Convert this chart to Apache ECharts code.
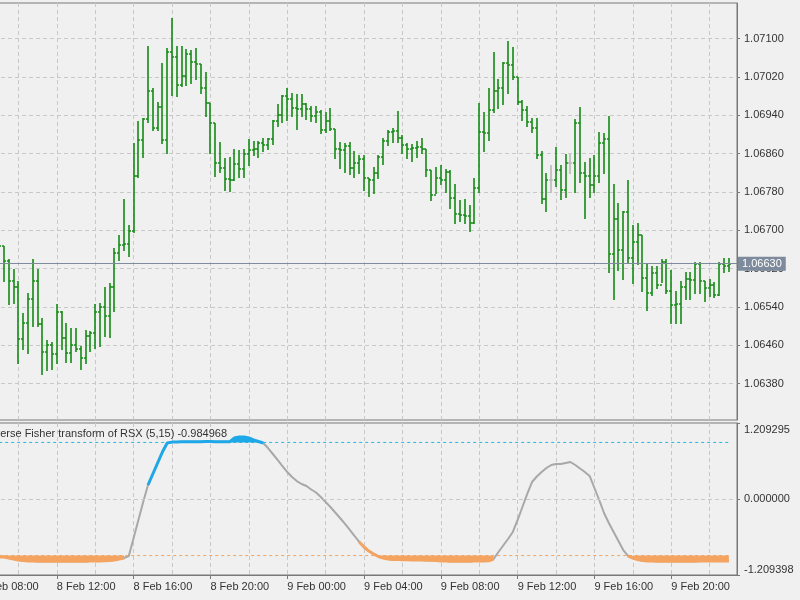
<!DOCTYPE html>
<html lang="en">
  <head>
    <meta charset="UTF-8" />
    <title>EURUSD M15 - Inverse Fisher transform of RSX</title>
    <style>
      * {
        margin: 0;
        padding: 0;
      }
      body {
        background: #f0f0f0;
      }
      #main {
        width: 800px;
        height: 600px;
      }
    </style>
  </head>

  <body>
    <div id="main"></div>
  </body>

  <script src="https://cdn.jsdelivr.net/npm/echarts@6.0.0/dist/echarts.min.js"></script>
  <script>
    // x is counted in 15 minute slots from 8 Feb 00:00, first bar is 8 Feb 09:00
    const firstSlot = 36;

    const opens = [
      1.06689, 1.06668, 1.06635, 1.06593, 1.06582, 1.06472, 1.06507, 1.06557, 1.06593, 1.06505,
      1.06445, 1.06461, 1.06441, 1.0653, 1.06476, 1.06443, 1.06461, 1.06453, 1.06434, 1.0648,
      1.06486, 1.0653, 1.06539, 1.0652, 1.06582, 1.06653, 1.0667, 1.06672, 1.06699, 1.06814,
      1.06889, 1.06933, 1.06991, 1.06914, 1.06956, 1.06889, 1.07071, 1.07062, 1.07002, 1.07021,
      1.07067, 1.0705, 1.07046, 1.06996, 1.06966, 1.06923, 1.06841, 1.06829, 1.06806, 1.06804,
      1.06839, 1.06827, 1.06858, 1.06868, 1.0687, 1.06881, 1.06877, 1.06891, 1.06927, 1.06941,
      1.06979, 1.06973, 1.06954, 1.06952, 1.06964, 1.06952, 1.06939, 1.06946, 1.06908, 1.06927,
      1.06912, 1.0687, 1.06868, 1.06875, 1.06829, 1.06841, 1.06848, 1.06808, 1.06804, 1.0682,
      1.06852, 1.06887, 1.06904, 1.06906, 1.06893, 1.06877, 1.0687, 1.06872, 1.06873, 1.0687,
      1.06825, 1.06774, 1.06808, 1.06804, 1.06822, 1.06768, 1.06733, 1.06731, 1.06729, 1.06716,
      1.06787, 1.06904, 1.06902, 1.0695, 1.06991, 1.06996, 1.07048, 1.07044, 1.07019, 1.06968,
      1.0695, 1.06925, 1.06914, 1.06856, 1.06766, 1.06804, 1.06804, 1.06825, 1.06783, 1.06841,
      1.06841, 1.06923, 1.0682, 1.06814, 1.06795, 1.06814, 1.06881, 1.06891, 1.06651, 1.06724,
      1.06658, 1.06737, 1.06643, 1.06676, 1.06689, 1.06601, 1.06568, 1.0661, 1.06585, 1.06633,
      1.06574, 1.06543, 1.06547, 1.06582, 1.06599, 1.06597, 1.0663, 1.06595, 1.0658, 1.06585,
      1.06564, 1.0663, 1.06626
    ];
    const highs = [
      1.06716, 1.06668, 1.06639, 1.0662, 1.06595, 1.06528, 1.0657, 1.06639, 1.0662, 1.06516,
      1.0647, 1.06466, 1.06545, 1.06532, 1.06507, 1.06495, 1.06495, 1.06459, 1.06491, 1.06489,
      1.06545, 1.06549, 1.06582, 1.06589, 1.06662, 1.06689, 1.06766, 1.0671, 1.06881, 1.06927,
      1.06935, 1.07085, 1.06996, 1.06968, 1.07048, 1.07081, 1.07142, 1.07085, 1.07085, 1.07077,
      1.07075, 1.07081, 1.07046, 1.07029, 1.06966, 1.06923, 1.06883, 1.0685, 1.06852, 1.0687,
      1.06868, 1.0687, 1.06891, 1.06887, 1.06887, 1.06893, 1.06893, 1.06929, 1.06964, 1.06983,
      1.06996, 1.06987, 1.06985, 1.06985, 1.06966, 1.0696, 1.0696, 1.0695, 1.06946, 1.06954,
      1.06912, 1.06883, 1.06881, 1.06883, 1.06866, 1.06856, 1.06856, 1.06808, 1.06831, 1.06856,
      1.06893, 1.06908, 1.06914, 1.06948, 1.06898, 1.06881, 1.06879, 1.06887, 1.06893, 1.0687,
      1.06825, 1.06831, 1.06835, 1.06827, 1.06825, 1.06797, 1.06762, 1.06766, 1.06752, 1.06808,
      1.06966, 1.06946, 1.06996, 1.07071, 1.07016, 1.0705, 1.07094, 1.07083, 1.07019, 1.06971,
      1.0696, 1.06935, 1.06935, 1.06866, 1.0682, 1.06837, 1.06873, 1.06835, 1.0686, 1.0686,
      1.06933, 1.06956, 1.06843, 1.0685, 1.06856, 1.06904, 1.06902, 1.06939, 1.06797, 1.06756,
      1.06741, 1.06804, 1.0671, 1.06716, 1.06689, 1.0663, 1.06626, 1.06626, 1.06639, 1.06639,
      1.06616, 1.06574, 1.06595, 1.06612, 1.06612, 1.06633, 1.06633, 1.06595, 1.06599, 1.06591,
      1.06633, 1.06643, 1.06643
    ];
    const lows = [
      1.06662, 1.06595, 1.06547, 1.06549, 1.06422, 1.06453, 1.06443, 1.06501, 1.06501, 1.06401,
      1.06409, 1.06411, 1.06422, 1.06453, 1.06424, 1.06424, 1.06447, 1.06411, 1.06422, 1.06449,
      1.06455, 1.06459, 1.0648, 1.06478, 1.06532, 1.06637, 1.06658, 1.06647, 1.06697, 1.0681,
      1.06852, 1.06925, 1.06908, 1.06908, 1.06881, 1.06862, 1.06983, 1.06981, 1.07, 1.07002,
      1.07008, 1.07016, 1.06987, 1.06939, 1.06862, 1.06814, 1.06822, 1.06783, 1.06781, 1.06804,
      1.0681, 1.0681, 1.06837, 1.06856, 1.06852, 1.06866, 1.0687, 1.06879, 1.06918, 1.06925,
      1.06929, 1.06939, 1.06912, 1.06939, 1.06933, 1.06927, 1.06925, 1.06902, 1.06904, 1.06908,
      1.0685, 1.06829, 1.06822, 1.06818, 1.06812, 1.0682, 1.06783, 1.06772, 1.06777, 1.06808,
      1.06839, 1.06877, 1.06883, 1.06883, 1.06862, 1.0685, 1.06845, 1.06852, 1.06862, 1.06814,
      1.06762, 1.06777, 1.06797, 1.06779, 1.06747, 1.06714, 1.0672, 1.06716, 1.06699, 1.06714,
      1.06779, 1.06866, 1.06889, 1.06946, 1.06954, 1.06964, 1.06987, 1.07016, 1.06964, 1.06929,
      1.06918, 1.06904, 1.0685, 1.06756, 1.06741, 1.06779, 1.06793, 1.06766, 1.0677, 1.0682,
      1.06779, 1.068, 1.06726, 1.0677, 1.06779, 1.068, 1.0682, 1.06612, 1.06557, 1.06616,
      1.06599, 1.06633, 1.06589, 1.0663, 1.06574, 1.06534, 1.06564, 1.0658, 1.06591, 1.06568,
      1.06507, 1.06507, 1.06507, 1.06557, 1.06557, 1.0657, 1.06568, 1.06553, 1.06562, 1.0656,
      1.06564, 1.06612, 1.06614
    ];
    const closes = [
      1.06668, 1.06635, 1.06593, 1.06582, 1.06472, 1.06507, 1.06557, 1.06593, 1.06505, 1.06445,
      1.06461, 1.06441, 1.0653, 1.06476, 1.06443, 1.06461, 1.06453, 1.06434, 1.0648, 1.06486,
      1.0653, 1.06539, 1.0652, 1.06582, 1.06653, 1.0667, 1.06672, 1.06699, 1.06814, 1.06889,
      1.06933, 1.06991, 1.06914, 1.06956, 1.06889, 1.07071, 1.07062, 1.07002, 1.07021, 1.07067,
      1.0705, 1.07046, 1.06996, 1.06966, 1.06923, 1.06841, 1.06829, 1.06806, 1.06804, 1.06839,
      1.06827, 1.06858, 1.06868, 1.0687, 1.06881, 1.06877, 1.06891, 1.06927, 1.06941, 1.06979,
      1.06973, 1.06954, 1.06952, 1.06964, 1.06952, 1.06939, 1.06946, 1.06908, 1.06927, 1.06912,
      1.0687, 1.06868, 1.06875, 1.06829, 1.06841, 1.06848, 1.06808, 1.06804, 1.0682, 1.06852,
      1.06887, 1.06904, 1.06906, 1.06893, 1.06877, 1.0687, 1.06872, 1.06873, 1.0687, 1.06825,
      1.06774, 1.06808, 1.06804, 1.06822, 1.06768, 1.06733, 1.06731, 1.06729, 1.06716, 1.06787,
      1.06904, 1.06902, 1.0695, 1.06991, 1.06996, 1.07048, 1.07044, 1.07019, 1.06968, 1.0695,
      1.06925, 1.06914, 1.06856, 1.06766, 1.06804, 1.06804, 1.06825, 1.06783, 1.06841, 1.06841,
      1.06923, 1.0682, 1.06814, 1.06795, 1.06814, 1.06881, 1.06891, 1.06651, 1.06724, 1.06658,
      1.06737, 1.06643, 1.06676, 1.06689, 1.06601, 1.06568, 1.0661, 1.06585, 1.06633, 1.06574,
      1.06543, 1.06547, 1.06582, 1.06599, 1.06597, 1.0663, 1.06595, 1.0658, 1.06585, 1.06564,
      1.0663, 1.06626, 1.0663
    ];

    // Inverse Fisher transform of RSX (5,15), one value per bar
    const ifish = [
      -0.923, -0.923, -0.939, -0.955, -0.971, -0.979, -0.986, -0.988, -0.989, -0.99,
      -0.991, -0.991, -0.992, -0.992, -0.991, -0.991, -0.99, -0.99, -0.989, -0.988,
      -0.987, -0.986, -0.984, -0.979, -0.971, -0.955, -0.939, -0.907, -0.621, -0.334,
      -0.048, 0.223, 0.398, 0.573, 0.748, 0.891, 0.905, 0.907, 0.909, 0.91,
      0.911, 0.912, 0.912, 0.913, 0.913, 0.912, 0.912, 0.911, 0.91, 0.971,
      0.987, 0.987, 0.971, 0.939, 0.915, 0.891, 0.811, 0.716, 0.621, 0.525,
      0.43, 0.35, 0.286, 0.239, 0.207, 0.151, 0.103, 0.032, -0.048, -0.127,
      -0.215, -0.302, -0.391, -0.489, -0.585, -0.684, -0.764, -0.828, -0.875, -0.915,
      -0.939, -0.955, -0.963, -0.963, -0.965, -0.966, -0.97, -0.971, -0.972, -0.973,
      -0.975, -0.977, -0.986, -0.988, -0.989, -0.99, -0.99, -0.99, -0.989, -0.988,
      -0.987, -0.986, -0.984, -0.955, -0.843, -0.74, -0.637, -0.525, -0.334, -0.127,
      0.08, 0.27, 0.358, 0.43, 0.493, 0.541, 0.557, 0.557, 0.573, 0.589,
      0.541, 0.485, 0.43, 0.366, 0.175, -0.016, -0.223, -0.382, -0.525, -0.668,
      -0.812, -0.907, -0.939, -0.963, -0.979, -0.986, -0.988, -0.989, -0.99, -0.99,
      -0.991, -0.991, -0.99, -0.99, -0.989, -0.989, -0.988, -0.987, -0.987, -0.986,
      -0.986, -0.985, -0.984968
    ];
    // colour of the line, as runs of [state, bars]: 0 grey, 1 blue, 2 orange
    const colorRuns = [[2, 27], [0, 5], [1, 24], [0, 20], [2, 28], [0, 28], [2, 21]];
    const upperLevel = 0.9;
    const lowerLevel = -0.9;

    // axes
    const priceTicks = [1.0638, 1.0646, 1.0654, 1.0662, 1.067, 1.0678, 1.0686, 1.0694, 1.0702, 1.071];
    const ifishTicks = [-1.209398, 0, 1.209295];
    const timeLabels = [
      "8 Feb 08:00", "8 Feb 12:00", "8 Feb 16:00", "8 Feb 20:00", "9 Feb 00:00",
      "9 Feb 04:00", "9 Feb 08:00", "9 Feb 12:00", "9 Feb 16:00", "9 Feb 20:00"
    ];
    const labelSlots = [32, 48, 64, 80, 96, 112, 128, 144, 160, 176];
    const gridSlots = [40, 48, 56, 64, 72, 80, 88, 96, 104, 112, 120, 128, 136, 144, 152, 160, 168, 176, 184];

    const font = "Liberation Sans, Arial, sans-serif";
    const textColor = "#333333";
    const frameColor = "#787878";
    const gridColor = "#c8c8c8";
    const barColor = "#138a13";
    const dojiColor = "#b8b8b8";
    const priceLineColor = "#7d8b9c";
    const blue = "#1ea8e8";
    const orange = "#f4a460";
    const grey = "#a8a8a8";

    var myChart = echarts.init(document.getElementById("main"));

    const bars = opens.map((o, i) => [firstSlot + i, o, highs[i], lows[i], closes[i]]);
    const lastSlot = firstSlot + ifish.length - 1;
    const lastPrice = closes[closes.length - 1];

    const states = [];
    colorRuns.forEach(([s, n]) => {
      for (let k = 0; k < n; k++) states.push(s);
    });

    // segment (i-1 -> i) takes the colour of bar i
    function colouredLine(state) {
      return ifish.map((v, i) => {
        const on = states[i] === state || states[i + 1] === state;
        return [firstSlot + i, on ? v : null];
      });
    }
    function fillBand(state, test) {
      return ifish.map((v, i) => [firstSlot + i, states[i] === state && test(v) ? v : null]);
    }

    function renderOhlc(params, api) {
      const slot = api.value(0);
      const o = api.value(1);
      const c = api.value(4);
      const x = Math.round(api.coord([slot, o])[0]);
      const yO = Math.round(api.coord([slot, o])[1]);
      const yH = Math.round(api.coord([slot, api.value(2)])[1]);
      const yL = Math.round(api.coord([slot, api.value(3)])[1]);
      const yC = Math.round(api.coord([slot, c])[1]);
      const color = o === c ? dojiColor : barColor;
      const st = () => ({ stroke: color, lineWidth: 1.6 });
      return {
        type: "group",
        children: [
          { type: "line", shape: { x1: x, y1: yH, x2: x, y2: yL + 1 }, style: st() },
          { type: "line", shape: { x1: x - 2, y1: yO, x2: x, y2: yO }, style: st() },
          { type: "line", shape: { x1: x, y1: yC, x2: x + 2, y2: yC }, style: st() },
        ],
      };
    }

    const xMin = 32;
    const xMax = 189.7;
    const labelStyle = { color: textColor, fontSize: 11, fontFamily: font };

    const option = {
      backgroundColor: "#f0f0f0",
      animation: false,
      textStyle: { fontFamily: font },
      grid: [
        {
          left: -20, right: 63, top: 3, height: 417,
          show: true, borderColor: frameColor, borderWidth: 1,
          containLabel: false, outerBoundsMode: "none",
        },
        {
          left: -20, right: 63, top: 423, height: 152,
          show: true, borderColor: frameColor, borderWidth: 1,
          containLabel: false, outerBoundsMode: "none",
        },
      ],
      xAxis: [
        {
          type: "value", gridIndex: 0, min: xMin, max: xMax,
          axisLine: { show: false },
          axisTick: { show: false, customValues: gridSlots },
          axisLabel: { show: false },
          splitLine: { show: true, lineStyle: { color: gridColor, type: [4, 3] } },
        },
        {
          type: "value", gridIndex: 1, min: xMin, max: xMax, position: "top",
          axisLine: { show: false },
          axisTick: { show: false, customValues: gridSlots },
          axisLabel: { show: false },
          splitLine: { show: true, lineStyle: { color: gridColor, type: [4, 3] } },
        },
        {
          type: "value", gridIndex: 1, min: xMin, max: xMax, position: "bottom",
          axisLine: { show: true, lineStyle: { color: frameColor } },
          axisTick: { show: true, length: 4, customValues: labelSlots, lineStyle: { color: frameColor } },
          axisLabel: {
            ...labelStyle,
            customValues: labelSlots,
            align: "left",
            margin: 6,
            formatter: (v) => timeLabels[labelSlots.indexOf(v)] || "",
          },
          splitLine: { show: false },
        },
      ],
      yAxis: [
        {
          type: "value", gridIndex: 0, position: "right",
          min: 1.06304, max: 1.07174,
          axisLine: { show: true, lineStyle: { color: frameColor } },
          axisTick: { show: true, length: 3, customValues: priceTicks, lineStyle: { color: frameColor } },
          axisLabel: {
            ...labelStyle,
            customValues: priceTicks,
            margin: 7,
            formatter: (v) => v.toFixed(5),
          },
          splitLine: { show: true, lineStyle: { color: gridColor, type: [4, 3] } },
        },
        {
          type: "value", gridIndex: 1, position: "right",
          min: ifishTicks[0], max: ifishTicks[2],
          axisLine: { show: true, lineStyle: { color: frameColor } },
          axisTick: { show: true, length: 3, customValues: ifishTicks, lineStyle: { color: frameColor } },
          axisLabel: {
            ...labelStyle,
            customValues: ifishTicks,
            margin: 7,
            formatter: (v) => {
              const s = v.toFixed(6);
              if (v > 1) return "{top|" + s + "}";
              if (v < -1) return "{bot|" + s + "}";
              return s;
            },
            rich: {
              top: { ...labelStyle, padding: [14, 0, 0, 0] },
              bot: { ...labelStyle, padding: [0, 0, 10, 0] },
            },
          },
          splitLine: { show: false },
        },
      ],
      graphic: [
        {
          type: "text",
          x: 227,
          y: 434,
          z: 50,
          style: {
            text: "Inverse Fisher transform of RSX (5,15) " + ifish[ifish.length - 1].toFixed(6),
            font: "11px " + font,
            fill: textColor,
            align: "right",
            textAlign: "right",
            verticalAlign: "middle",
            textVerticalAlign: "middle",
          },
        },
      ],
      series: [
        {
          name: "EURUSD",
          type: "custom",
          xAxisIndex: 0,
          yAxisIndex: 0,
          renderItem: renderOhlc,
          data: bars,
          encode: { x: 0, y: [1, 2, 3, 4] },
          clip: true,
          silent: true,
        },
        {
          // carries the bid line, drawn through the closes
          name: "bid",
          type: "line",
          xAxisIndex: 0,
          yAxisIndex: 0,
          data: bars.map((b) => [b[0], b[4]]),
          symbol: "none",
          silent: true,
          lineStyle: { width: 0, opacity: 0 },
          z: 3,
          markLine: {
            silent: true,
            precision: 5,
            symbol: ["none", "none"],
            animation: false,
            lineStyle: { color: priceLineColor, width: 1, type: "solid", opacity: 1 },
            label: {
              show: true,
              position: "end",
              distance: 1,
              formatter: lastPrice.toFixed(5),
              color: "#ffffff",
              backgroundColor: priceLineColor,
              padding: [2, 4, 1, 4],
              fontSize: 11,
              fontFamily: font,
            },
            data: [{ yAxis: lastPrice }],
          },
        },
        {
          name: "ifish",
          type: "line",
          xAxisIndex: 1,
          yAxisIndex: 1,
          data: ifish.map((v, i) => [firstSlot + i, v]),
          symbol: "none",
          silent: true,
          z: 2,
          lineStyle: { color: grey, width: 2 },
          markLine: {
            silent: true,
            precision: 6,
            symbol: ["none", "none"],
            label: { show: false },
            lineStyle: { color: gridColor, width: 1, type: [4, 3] },
            data: [{ yAxis: 0 }],
          },
        },
        {
          name: "upper fill",
          type: "line",
          xAxisIndex: 1,
          yAxisIndex: 1,
          data: fillBand(1, (v) => v > upperLevel - 0.02),
          symbol: "none",
          silent: true,
          z: 3,
          lineStyle: { width: 0 },
          areaStyle: { color: blue, opacity: 1, origin: upperLevel },
        },
        {
          name: "lower fill",
          type: "line",
          xAxisIndex: 1,
          yAxisIndex: 1,
          data: fillBand(2, (v) => v < lowerLevel + 0.02),
          symbol: "none",
          silent: true,
          z: 3,
          lineStyle: { width: 0 },
          areaStyle: { color: orange, opacity: 1, origin: lowerLevel },
        },
        {
          name: "upper level",
          type: "line",
          xAxisIndex: 1,
          yAxisIndex: 1,
          data: [[firstSlot, upperLevel], [lastSlot, upperLevel]],
          symbol: "none",
          silent: true,
          z: 2,
          lineStyle: { color: "#29b6e0", width: 1, type: [3, 3] },
        },
        {
          name: "lower level",
          type: "line",
          xAxisIndex: 1,
          yAxisIndex: 1,
          data: [[firstSlot, lowerLevel], [lastSlot, lowerLevel]],
          symbol: "none",
          silent: true,
          z: 2,
          lineStyle: { color: orange, width: 1, type: [3, 3] },
        },
        {
          name: "ifish up",
          type: "line",
          xAxisIndex: 1,
          yAxisIndex: 1,
          data: colouredLine(1),
          symbol: "none",
          silent: true,
          z: 4,
          lineStyle: { color: blue, width: 3 },
        },
        {
          name: "ifish down",
          type: "line",
          xAxisIndex: 1,
          yAxisIndex: 1,
          data: colouredLine(2),
          symbol: "none",
          silent: true,
          z: 4,
          lineStyle: { color: orange, width: 3 },
        },
      ],
    };

    myChart.setOption(option);
  </script>
</html>
